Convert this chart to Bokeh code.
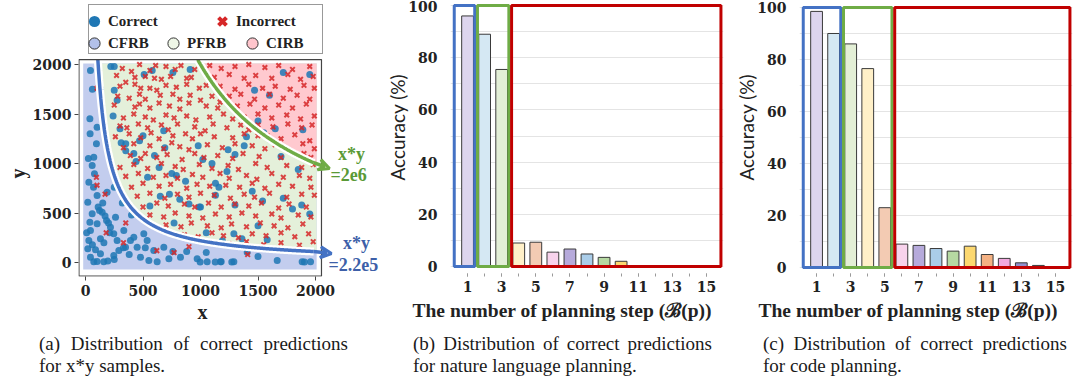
import numpy as np
from bokeh.plotting import figure
from bokeh.models import (Legend, LegendItem, Label, Arrow, VeeHead, FixedTicker,
                          Range1d, Title, Div)
from bokeh.layouts import row, column
from bokeh.embed import file_html
from bokeh.resources import INLINE

# ---------------- data: panel (a) ----------------
xy_ticks = [0, 500, 1000, 1500, 2000]
cfrb_bound = 2.2e5   # x*y boundary CFRB / PFRB
cirb_bound = 2e6     # x*y boundary PFRB / CIRB

correct_pts = [
    # CFRB
    (43, 1939), (38, 1451), (58, 980), (78, 896), (29, 811), (101, 677), (20, 609), (122, 525),
    (58, 492), (38, 407), (101, 391), (43, 323), (130, 239), (20, 138), (87, 128), (130, 88),
    (43, 54), (101, 10), (194, 15), (246, 71), (290, 121), (275, 222), (246, 290), (217, 357),
    (183, 424), (145, 508), (261, 458), (333, 323), (348, 155), (420, 256), (449, 155), (478, 54),
    (551, 20), (594, 121), (681, 155), (725, 37), (826, 54), (971, 37), (1058, 8), (1174, 8),
    (1290, 8), (1406, 104), (1667, 20), (1884, 8), (1957, 8), (250, 760), (320, 600), (400, 480),
    (507, 290), (130, 1754), (101, 1367), (72, 1064), (188, 710), (29, 222), (72, 8), (159, 8),
    (391, 222), (536, 222), (623, 8), (997, 5), (1128, 5), (1180, 8), (1272, 5), (1904, 5),
    (60, 1750), (40, 1300), (95, 1200), (25, 1050), (70, 760), (110, 560), (150, 600), (170, 470),
    (200, 400), (210, 300), (160, 200), (60, 180), (10, 300), (330, 150), (380, 80), (250, 30),
    (520, 150), (880, 110), (760, 110), (1050, 100), (1500, 60),
    # PFRB
    (220, 1980), (250, 1980), (510, 1900), (580, 1940), (760, 1920), (910, 1950), (250, 1740),
    (275, 1640), (240, 1480), (300, 1350), (310, 1210), (350, 1130), (350, 1200), (420, 1100),
    (440, 1020), (470, 1230), (500, 1280), (600, 1080), (680, 1330), (690, 1160), (750, 900),
    (790, 880), (870, 820), (980, 1180), (1020, 1040), (640, 960), (540, 860), (650, 670),
    (730, 690), (770, 400), (900, 590), (1000, 560), (1130, 680), (1160, 760), (1230, 920),
    (1300, 1090), (1380, 1180), (1450, 720), (1540, 620), (1500, 370), (1300, 580), (1610, 1240),
    (1700, 1070), (1850, 940), (1880, 580), (1950, 490), (1800, 540), (1720, 650), (1400, 1270),
    (1240, 1140), (1100, 1000), (1130, 800), (1290, 290), (1360, 240), (1050, 300), (1580, 230),
    (1190, 220), (990, 560), (820, 640), (560, 570),
    # CIRB
    (1720, 1920), (1950, 1900), (1470, 1740), (1600, 1690), (1500, 1430), (1650, 1350),
    (1890, 1340), (1550, 1310),
]

incorrect_pts = [
    # PFRB
    (320, 1960), (470, 2000), (610, 1990), (700, 1980), (830, 1990), (560, 1940), (950, 1950),
    (400, 1930), (780, 1950), (270, 1890), (430, 1870), (520, 1880), (660, 1850), (740, 1880),
    (880, 1860), (350, 1820), (600, 1860), (920, 1870), (300, 1780), (430, 1800), (480, 1760),
    (560, 1760), (620, 1740), (700, 1790), (790, 1770), (880, 1800), (990, 1760), (1050, 1790),
    (280, 1680), (380, 1660), (470, 1700), (520, 1650), (650, 1690), (760, 1700), (820, 1650),
    (910, 1690), (1000, 1640), (1100, 1680), (250, 1590), (430, 1570), (470, 1600), (560, 1560),
    (640, 1610), (730, 1580), (820, 1550), (900, 1610), (1050, 1580), (1150, 1560), (1170, 1620),
    (330, 1460), (420, 1500), (520, 1470), (590, 1440), (700, 1490), (770, 1460), (880, 1480),
    (960, 1440), (1080, 1470), (1200, 1500), (1280, 1450), (300, 1380), (360, 1360), (460, 1400),
    (540, 1360), (660, 1390), (720, 1340), (800, 1400), (950, 1370), (1040, 1330), (1110, 1400),
    (1230, 1360), (1350, 1390), (1420, 1340), (260, 1270), (380, 1300), (480, 1260), (570, 1310),
    (640, 1250), (760, 1280), (870, 1300), (930, 1250), (1000, 1300), (1120, 1270), (1280, 1260),
    (1380, 1300), (1500, 1280), (330, 1160), (420, 1200), (560, 1180), (680, 1150), (750, 1210),
    (820, 1170), (900, 1140), (1060, 1190), (1190, 1160), (1300, 1200), (1450, 1180), (1560, 1150),
    (1650, 1190), (390, 1080), (480, 1050), (520, 1100), (620, 1060), (710, 1090), (840, 1040),
    (950, 1100), (1030, 1060), (1150, 1080), (1280, 1050), (1370, 1100), (1510, 1070), (1700, 1060),
    (1820, 1100), (300, 960), (420, 990), (540, 950), (660, 1000), (780, 970), (850, 940),
    (990, 990), (1100, 950), (1240, 980), (1330, 940), (1480, 1000), (1580, 960), (1750, 980),
    (1880, 960), (1980, 990), (350, 870), (460, 900), (590, 860), (700, 880), (800, 850),
    (930, 890), (1020, 860), (1170, 900), (1250, 850), (1400, 880), (1490, 840), (1620, 900),
    (1720, 860), (1860, 880), (1950, 850), (400, 760), (500, 800), (640, 770), (740, 790),
    (880, 750), (970, 790), (1080, 770), (1220, 780), (1340, 760), (1450, 800), (1560, 750),
    (1680, 790), (1800, 770), (1960, 760), (450, 670), (560, 700), (690, 650), (800, 690),
    (900, 660), (1000, 700), (1120, 680), (1260, 650), (1380, 690), (1470, 660), (1600, 700),
    (1750, 660), (1880, 690), (1990, 680), (500, 560), (620, 600), (720, 570), (860, 590),
    (950, 560), (1070, 600), (1180, 560), (1300, 590), (1420, 570), (1530, 600), (1680, 550),
    (1770, 590), (1920, 560), (560, 480), (680, 460), (780, 500), (900, 470), (1020, 450),
    (1130, 490), (1250, 460), (1360, 500), (1480, 470), (1620, 490), (1700, 450), (1850, 480),
    (1960, 460), (700, 380), (830, 360), (920, 400), (1060, 370), (1180, 350), (1270, 390),
    (1400, 360), (1520, 400), (1640, 370), (1760, 350), (1890, 390), (860, 280), (980, 260),
    (1100, 300), (1200, 270), (1330, 250), (1450, 290), (1570, 270), (1700, 300), (1820, 260),
    (1940, 290), (1080, 200), (1250, 190), (1400, 210), (1550, 180), (1700, 200), (1860, 175),
    (1980, 210),
    # CIRB
    (1080, 1990), (1180, 1960), (1300, 1980), (1420, 2000), (1560, 1970), (1680, 1990),
    (1800, 1950), (1950, 1980), (1120, 1870), (1250, 1900), (1380, 1860), (1480, 1890),
    (1620, 1860), (1760, 1900), (1870, 1850), (1980, 1880), (1170, 1780), (1300, 1750),
    (1420, 1800), (1540, 1760), (1650, 1780), (1780, 1750), (1900, 1790), (1990, 1760),
    (1250, 1680), (1350, 1700), (1470, 1650), (1600, 1700), (1720, 1660), (1840, 1690),
    (1950, 1650), (1320, 1580), (1430, 1600), (1560, 1560), (1680, 1590), (1800, 1560),
    (1920, 1600), (1380, 1470), (1500, 1500), (1620, 1460), (1750, 1490), (1870, 1450),
    (1990, 1480), (1500, 1390), (1630, 1370), (1760, 1400), (1880, 1360), (1970, 1390),
    (1580, 1280), (1700, 1250), (1820, 1290), (1950, 1230), (1890, 1200), (1780, 1130),
    (1900, 1100), (1990, 1150), (1960, 1060),
    # CFRB
    (100, 1760), (95, 860), (100, 780), (170, 690), (350, 400), (180, 300), (330, 200),
    (770, 100), (900, 160), (1410, 80), (620, 120),
]

# ---------------- data: panels (b), (c) ----------------
steps = list(range(1, 16))
step_ticks = [1, 3, 5, 7, 9, 11, 13, 15]
acc_ticks = [0, 20, 40, 60, 80, 100]
nl_acc = [96, 89, 75.5, 9, 9.3, 5.5, 6.7, 4.8, 3.5, 2, 0, 0, 0, 0, 0]
code_acc = [98.5, 90, 86, 76.5, 23, 9, 8.5, 7.3, 6.3, 8.2, 5, 3.5, 1.8, 0.8, 0]
nl_groups = [(1, 1), (2, 3), (4, 15)]      # CFRB, PFRB, CIRB step spans
code_groups = [(1, 2), (3, 5), (6, 15)]

captions = [
    ("(a) Distribution of correct predictions", "for x*y samples."),
    ("(b) Distribution of correct predictions", "for nature language planning."),
    ("(c) Distribution of correct predictions", "for code planning."),
]

# ---------------- styles ----------------
SERIF = "Liberation Serif"
TICKF = "DejaVu Serif"
CORRECT_C = "#1f77b4"
INCORRECT_C = "#d62728"
CFRB_C, PFRB_C, CIRB_C = "#c3cdee", "#e4f0da", "#ffc9cf"
BLUE, GREEN, RED = "#4472c4", "#6fac46", "#c00000"
BAR_COLORS = ["#ddd5ee", "#d5e8f3", "#e3efd6", "#fff0c8", "#f3cbb3", "#f8d3ec", "#b6aadb",
              "#aacde9", "#b6d9a2", "#fcd870", "#f4b183", "#f2a8df", "#9190cf", "#aacde9",
              "#d5e8f3"]
FIG_H = 333
BORDER_B = 57
NAN = [float("nan")]


def style_ticks(ax, size="14px"):
    ax.axis_line_color = None
    ax.major_label_text_font = TICKF
    ax.major_label_text_font_style = "bold"
    ax.major_label_text_font_size = size
    ax.major_label_text_color = "#222222"


def make_title(text, align, offset, standoff, font, style, size):
    try:
        return Title(text=text, align=align, offset=offset, standoff=standoff, text_font=font,
                     text_font_style=style, text_font_size=size, text_color="#222222")
    except ValueError:
        return Title(text=text, align=align, offset=offset, standoff=0, text_font=font,
                     text_font_style=style, text_font_size=size, text_color="#222222")


# ================= panel (a) =================
pa = figure(width=385, height=FIG_H, x_range=Range1d(-60.9, 2608.7),
            y_range=Range1d(-141.4, 2646.5), output_backend="svg", toolbar_location=None,
            min_border_left=78, min_border_right=0, min_border_top=0,
            min_border_bottom=BORDER_B)
pa.outline_line_color = None
pa.grid.visible = False

pa.quad(left=-20, right=2010, bottom=-70, top=2010, fill_color=CFRB_C, line_color=None)
gx = np.linspace(cfrb_bound / 2010, 2010, 300)
pa.patch(list(gx) + [2010], list(cfrb_bound / gx) + [2010], fill_color=PFRB_C, line_color=None)
rx = np.linspace(cirb_bound / 2010, 2010, 300)
pa.patch(list(rx) + [2010], list(cirb_bound / rx) + [2010], fill_color=CIRB_C, line_color=None)

cx, cy = zip(*correct_pts)
ix, iy = zip(*incorrect_pts)
pa.scatter(list(cx), list(cy), size=7, fill_color=CORRECT_C, fill_alpha=0.85, line_color=None)
pa.scatter(list(ix), list(iy), marker="x", size=6.5, line_color=INCORRECT_C, line_width=2,
           line_alpha=0.85)

# boundary curves
bx = np.linspace(cfrb_bound / 2048, 1985, 300)
pa.line(bx, cfrb_bound / bx, line_color="white", line_width=8)
pa.line(bx, cfrb_bound / bx, line_color=BLUE, line_width=3.5)
qx = np.linspace(cirb_bound / 2048, 1985, 300)
pa.line(qx, cirb_bound / qx, line_color="white", line_width=8)
pa.line(qx, cirb_bound / qx, line_color=GREEN, line_width=3.5)

# plot box of the scatter area (drawn over the region fills)
pa.quad(left=-57, right=2052, bottom=-138, top=2050, fill_alpha=0, line_color="#444444",
        line_width=1.2)

pa.add_layout(Arrow(end=VeeHead(size=11, line_color=BLUE, line_width=3, fill_alpha=0),
                    x_start=1985, y_start=cfrb_bound / 1985, x_end=2139, y_end=91,
                    line_color=BLUE, line_width=3.5))
pa.add_layout(Arrow(end=VeeHead(size=11, line_color=GREEN, line_width=3, fill_alpha=0),
                    x_start=1985, y_start=cirb_bound / 1985, x_end=2122, y_end=950,
                    line_color=GREEN, line_width=3.5))

for txt, xx, yy, col in [("x*y", 2313, 1101, "#5a9a36"), ("=2e6", 2287, 879, "#5a9a36"),
                         ("x*y", 2357, 202, "#3d5fa8"), ("=2.2e5", 2330, -30, "#3d5fa8")]:
    pa.add_layout(Label(x=xx, y=yy, text=txt, text_align="center", text_baseline="middle",
                        text_font=SERIF, text_font_style="bold", text_font_size="18px",
                        text_color=col))

for ax in (pa.xaxis, pa.yaxis):
    ax.ticker = FixedTicker(ticks=xy_ticks)
    style_ticks(ax)
    ax.major_tick_out = 4
    ax.major_tick_in = 0
    ax.major_tick_line_color = "#444444"
    ax.minor_tick_line_color = None
pa.xaxis.major_label_standoff = 4
pa.yaxis.major_label_standoff = 3
pa.add_layout(make_title("x", "left", 119, 0, SERIF, "bold", "20px"), "below")
pa.add_layout(make_title("y", "left", 98, 2, SERIF, "bold", "20px"), "left")

# legend glyph stand-ins (a single NaN point: nothing is drawn in the plot)
d_cor = pa.scatter(NAN, NAN, fill_color=CORRECT_C, line_color=None)
d_inc = pa.scatter(NAN, NAN, marker="x", line_color=INCORRECT_C, line_width=4)
d_cf = pa.scatter(NAN, NAN, fill_color="#b3c1ea", line_color="#333333", line_width=1)
d_pf = pa.scatter(NAN, NAN, fill_color="#eef6e6", line_color="#333333", line_width=1)
d_ci = pa.scatter(NAN, NAN, fill_color="#ffc5cc", line_color="#333333", line_width=1)
d_sp = pa.scatter(NAN, NAN, fill_alpha=0, line_alpha=0)

leg_text = dict(orientation="horizontal", margin=0, label_text_font=SERIF,
                label_text_font_style="bold", label_text_font_size="15px",
                label_text_color="#222222")
# framed box holding both legend rows
leg_box = Legend(items=[LegendItem(label=" ", renderers=[d_sp])], location=(10, 222),
                 padding=5, glyph_width=20, glyph_height=38, label_height=16,
                 label_standoff=0, label_width=203, border_line_color="#333333",
                 border_line_width=1, background_fill_color="white", background_fill_alpha=1,
                 **leg_text)
row_common = dict(glyph_width=28, glyph_height=28, label_height=16, label_standoff=0,
                  padding=2, border_line_color=None, background_fill_alpha=0, **leg_text)
leg_row1 = Legend(items=[LegendItem(label="Correct", renderers=[d_cor]),
                         LegendItem(label="Incorrect", renderers=[d_inc])],
                  location=(2, 241), spacing=5, label_width=95, **row_common)
leg_row2 = Legend(items=[LegendItem(label="CFRB", renderers=[d_cf]),
                         LegendItem(label="PFRB", renderers=[d_pf]),
                         LegendItem(label="CIRB", renderers=[d_ci])],
                  location=(2, 219), spacing=6, label_width=45, **row_common)
pa.add_layout(leg_box)
pa.add_layout(leg_row1)
pa.add_layout(leg_row2)


# ================= panels (b), (c) =================
def bar_panel(width, acc, groups, border_left, border_right, y_lo, y_hi, xt_offset):
    p = figure(width=width, height=FIG_H, x_range=Range1d(0, 16), y_range=Range1d(y_lo, y_hi),
               output_backend="svg", toolbar_location=None, min_border_left=border_left,
               min_border_right=border_right, min_border_top=0, min_border_bottom=BORDER_B)
    p.outline_line_color = None
    p.xgrid.visible = False
    p.ygrid.grid_line_color = "#e4e4e4"
    p.ygrid.minor_grid_line_color = "#e4e4e4"
    p.vbar(x=steps, top=acc, width=0.69, fill_color=BAR_COLORS, line_color="#3a3a3a",
           line_width=1)
    lefts = [0.22 if i == 0 else g[0] - 0.42 for i, g in enumerate(groups)]
    rights = [15.85 if g[1] == 15 else g[1] + 0.42 for g in groups]
    p.quad(left=lefts, right=rights, bottom=0, top=100, fill_alpha=0,
           line_color=[BLUE, GREEN, RED], line_width=3)
    p.xaxis.ticker = FixedTicker(ticks=step_ticks, minor_ticks=steps)
    p.yaxis.ticker = FixedTicker(ticks=acc_ticks, minor_ticks=[10, 30, 50, 70, 90])
    style_ticks(p.xaxis)
    style_ticks(p.yaxis)
    p.xaxis.major_tick_out = 0
    p.xaxis.major_tick_in = 3
    p.xaxis.minor_tick_out = 0
    p.xaxis.minor_tick_in = 3
    p.xaxis.major_tick_line_color = "#9a9a9a"
    p.xaxis.minor_tick_line_color = "#9a9a9a"
    p.xaxis.major_label_standoff = 4
    p.yaxis.major_tick_line_color = None
    p.yaxis.minor_tick_line_color = None
    p.yaxis.major_label_standoff = 7
    p.add_layout(make_title("The number of planning step (ℬ(p))", "left", xt_offset, 6,
                            SERIF, "bold", "19.5px"), "below")
    p.add_layout(make_title("Accuracy (%)", "left", 96, -6, "Lato", "normal", "19px"), "left")
    return p


pb = bar_panel(345, nl_acc, nl_groups, 65, 7, -3.83, 101.92, -38)
pc = bar_panel(350, code_acc, code_groups, 69, 8, -3.46, 102.69, -41)


# ---------------- captions ----------------
def caption_div(width, left, line_w, lines):
    style = ("font-family:'Liberation Serif',serif;font-size:19px;line-height:22px;"
             "color:#1a1a1a;")
    html = (f'<div style="{style}margin-left:{left}px;width:{line_w}px;">'
            f'<div style="text-align:justify;text-align-last:justify;">{lines[0]}</div>'
            f'<div>{lines[1]}</div></div>')
    return Div(text=html, width=width, height=386 - FIG_H, margin=0)


da = caption_div(385, 39, 309, captions[0])
db = caption_div(345, 28, 299, captions[1])
dc = caption_div(350, 33, 304, captions[2])

layout = column(row(pa, pb, pc), row(da, db, dc))
open("out.html", "w").write(file_html(layout, INLINE))
